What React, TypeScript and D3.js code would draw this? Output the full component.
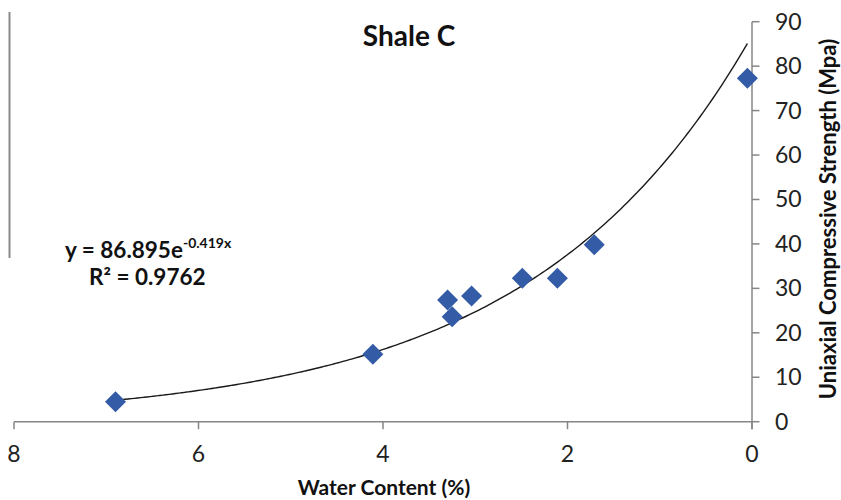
import React from "react";
import * as d3 from "d3";

// Shale C: water content (%) vs uniaxial compressive strength (MPa)
const waterContent = [6.9, 4.11, 3.3, 3.25, 3.04, 2.49, 2.11, 1.71, 0.05];
const ucs = [4.5, 15.2, 27.4, 23.6, 28.3, 32.3, 32.3, 39.8, 77.3];
const xTicks = [8, 6, 4, 2, 0];
const yTicks = [0, 10, 20, 30, 40, 50, 60, 70, 80, 90];

// Exponential fit y = a·e^(b·x)
const fitA = 86.895;
const fitB = -0.419;
const fitR2 = 0.9762;

const W = 841;
const H = 500;
const FONT = "Lato, 'Open Sans', sans-serif";

export default function App() {
  const x = d3.scaleLinear().domain([8, 0]).range([14, 752]);
  const y = d3.scaleLinear().domain([0, 90]).range([421.7, 21.7]);

  const [xMin, xMax] = d3.extent(waterContent) as [number, number];
  const curvePts = d3
    .range(xMin, xMax + 0.001, (xMax - xMin) / 200)
    .map((v) => [v, fitA * Math.exp(fitB * v)] as [number, number]);
  const line = d3
    .line<[number, number]>()
    .x((d) => x(d[0]))
    .y((d) => y(d[1]))
    .curve(d3.curveMonotoneX);

  const half = 10.5;
  const diamond = (cx: number, cy: number) =>
    `M${cx},${cy - half}L${cx + half},${cy}L${cx},${cy + half}L${cx - half},${cy}Z`;

  const axisColor = "#868686";
  const [x0, x1] = x.range();
  const [y0, y1] = y.range();

  return (
    <svg
      width={W}
      height={H}
      style={{ position: "absolute", left: 0, top: 0, background: "#fff" }}
      fontFamily={FONT}
    >
      {/* stray border line on the left */}
      <line x1={9.5} x2={9.5} y1={12} y2={258} stroke="#8a8a8a" strokeWidth={2} />

      {/* x axis */}
      <line x1={x0} x2={x1} y1={y0} y2={y0} stroke={axisColor} strokeWidth={1.5} />
      {xTicks.map((t) => (
        <g key={"xt" + t}>
          <line x1={x(t)} x2={x(t)} y1={y0} y2={y0 + 7.5} stroke={axisColor} strokeWidth={1.5} />
          <text x={x(t)} y={462} textAnchor="middle" fontSize={23} fill="#222">
            {t}
          </text>
        </g>
      ))}
      <text x={384} y={495} textAnchor="middle" fontSize={21} fontWeight="bold" fill="#111">
        Water Content (%)
      </text>

      {/* y axis on the right */}
      <line x1={x1} x2={x1} y1={y1} y2={y0 + 7.5} stroke={axisColor} strokeWidth={1.5} />
      {yTicks.map((t) => (
        <g key={"yt" + t}>
          <line x1={x1} x2={x1 + 7.5} y1={y(t)} y2={y(t)} stroke={axisColor} strokeWidth={1.5} />
          <text x={775} y={y(t) + 8} textAnchor="start" fontSize={23} fill="#222">
            {t}
          </text>
        </g>
      ))}
      <text
        transform={`translate(836, 219) rotate(-90)`}
        textAnchor="middle"
        fontSize={22}
        fontWeight="bold"
        fill="#111"
      >
        Uniaxial Compressive Strength (Mpa)
      </text>

      {/* title */}
      <text x={409} y={46} textAnchor="middle" fontSize={28} fontWeight="bold" fill="#111">
        Shale C
      </text>

      {/* fitted trend line */}
      <path d={line(curvePts) ?? ""} fill="none" stroke="#1a1a1a" strokeWidth={1.4} />

      {/* data points */}
      {waterContent.map((wc, i) => (
        <path key={"p" + i} d={diamond(x(wc), y(ucs[i]))} fill="#335BA6" />
      ))}

      {/* fit equation */}
      <text x={65} y={258} fontSize={22.5} fontWeight="bold" fill="#111">
        {`y = ${fitA}e`}
        <tspan dy={-10} fontSize={14}>{`${fitB}x`}</tspan>
      </text>
      <text x={89} y={285} fontSize={22.5} fontWeight="bold" fill="#111">
        {`R² = ${fitR2}`}
      </text>
    </svg>
  );
}
